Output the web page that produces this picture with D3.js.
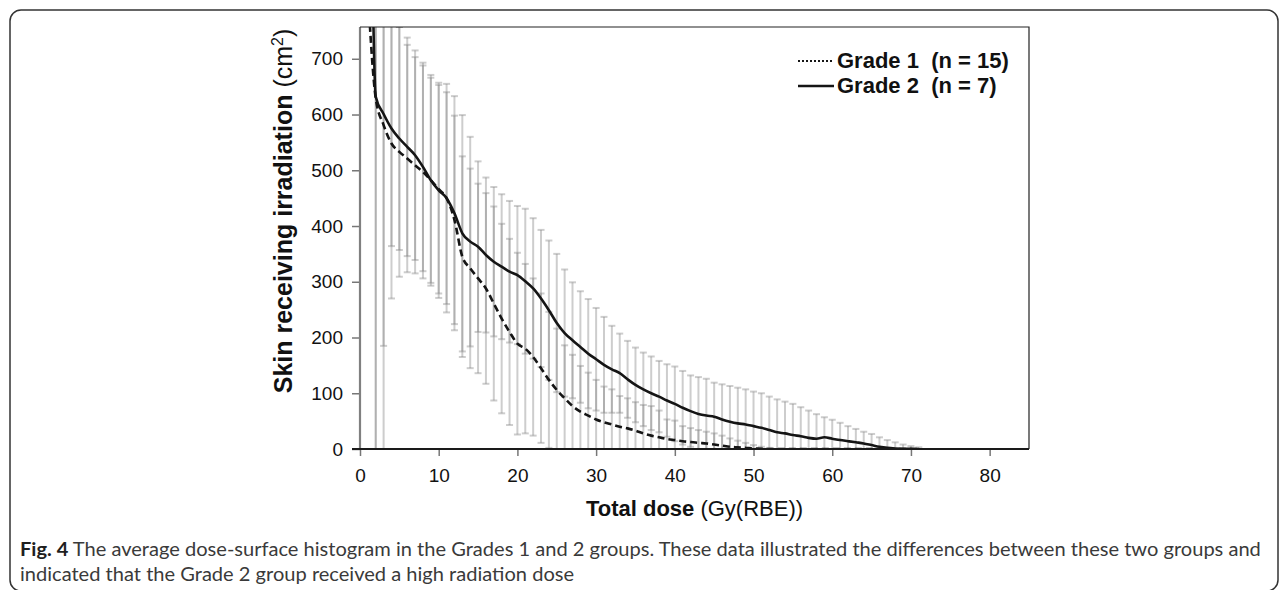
<!DOCTYPE html>
<meta charset="utf-8">
<title>Average dose-surface histogram</title>
<style>
body { margin: 0; background: #fff; }
svg { display: block; }
.axis text { font: 19px "Liberation Sans", Arial, sans-serif; fill: #111; }
.axis line { stroke: #777; stroke-width: 1.5px; }
.axis path { display: none; }
.ebar { stroke: #888; stroke-opacity: 0.42; stroke-width: 2px; }
.title { font-family: "Liberation Sans", Arial, sans-serif; fill: #111; }
.caption { font-family: Lato, sans-serif; font-size: 19px; fill: #3a3a3a; }
</style>
<svg width="1284" height="590"></svg>
<script src="https://cdnjs.cloudflare.com/ajax/libs/d3/7.8.5/d3.min.js"></script>
<script>

// dose bins (Gy(RBE))
var dose = [1,2,3,4,5,6,7,8,9,10,11,12,13,14,15,16,17,18,19,20,
  21,22,23,24,25,26,27,28,29,30,31,32,33,34,35,36,37,38,39,40,
  41,42,43,44,45,46,47,48,49,50,51,52,53,54,55,56,57,58,59,60,
  61,62,63,64,65,66,67,68,69,70,71];

// Grade 1 (n = 15), mean and SD of skin area (cm2)
var grade1Mean = [820,629,581,548,533,521,509,497,482,466,450,411,345,324,306,288,261,234,210,189,
  180,165,145,124,106,91,77,67,60,53,48,44,40,37,33,28,24,21,18,16,
  14,12.5,11,10,8,6,4,3,2,1,0.5,0,0,0,0,0,0,0,0,0,
  0,0,0,0,0,0,0,0,0,0,0];
var grade1SD = [null,700,600,278,224,204,194,191,189,187,190,187,180,179,170,171,174,170,167,163,
  152,141,134,122,110,95,92,82,77,71,64,63,55,54,51,51,53,48,35,35,
  27,25,23,21,20,18,15,12,9,6,3.5,2,null,null,null,null,null,null,null,null,
  null,null,null,null,null,null,null,null,null,null,null];

// Grade 2 (n = 7)
var grade2Mean = [1500,632,601,575,557,542,527,506,482,464,450,423,387,372,363,348,336,327,318,312,
  301,288,270,249,226,208,195,183,171,161,151,143,136,125,115,107,100,94,87,81,
  74,68,63,60,58,53,49,46,44,41,38,34,30,28,25,23,20,18.5,21,18.5,
  16,14,12,10,7,4,2,1,0.5,0.2,0];
var grade2SD = [null,680,416,211,200,196,188,187,184,193,205,210,212,188,153,139,134,130,127,124,
  130,126,123,125,124,114,104,100,98,92,86,78,71,69,67,66,66,64,65,67,
  66,64,66,66,61,63,64,64,63,62,62,60,59,57,56,52,49,44,36,34,
  31,27,24,21,20,17,14,11,7.5,5,3];

var xTicks = [0,10,20,30,40,50,60,70,80];
var yTicks = [0,100,200,300,400,500,600,700];

var svg = d3.select("svg");

var x = d3.scaleLinear().domain([0, 85]).range([360, 1029]);
var y = d3.scaleLinear().domain([0, 757]).range([449, 27]);

// outer figure frame
svg.append("rect")
    .attr("x", 10).attr("y", 10)
    .attr("width", 1268).attr("height", 581)
    .attr("rx", 11)
    .attr("fill", "none")
    .attr("stroke", "#333")
    .attr("stroke-width", 1.5);

svg.append("clipPath").attr("id", "plot")
  .append("rect")
    .attr("x", x(0)).attr("y", y(757))
    .attr("width", x(85) - x(0)).attr("height", y(0) - y(757));

var series = [
  {mean: grade1Mean, sd: grade1SD, dash: "7,4"},
  {mean: grade2Mean, sd: grade2SD, dash: null}
];

var plot = svg.append("g").attr("clip-path", "url(#plot)");

// error bars (mean +/- SD)
series.forEach(function(s) {
  var pts = dose.map(function(d, i) { return {x: d, m: s.mean[i], sd: s.sd[i]}; })
      .filter(function(p) { return p.sd != null; });
  var g = plot.append("g");
  g.selectAll(".ebar.v").data(pts).enter().append("line")
      .attr("class", "ebar v")
      .attr("x1", function(p) { return x(p.x); })
      .attr("x2", function(p) { return x(p.x); })
      .attr("y1", function(p) { return y(p.m - p.sd); })
      .attr("y2", function(p) { return y(p.m + p.sd); });
  [-1, 1].forEach(function(sign) {
    g.selectAll(".cap" + sign).data(pts).enter().append("line")
        .attr("class", "ebar")
        .attr("x1", function(p) { return x(p.x) - 3.5; })
        .attr("x2", function(p) { return x(p.x) + 3.5; })
        .attr("y1", function(p) { return y(p.m + sign * p.sd); })
        .attr("y2", function(p) { return y(p.m + sign * p.sd); });
  });
});

// mean curves
var line = d3.line()
    .x(function(d) { return x(d[0]); })
    .y(function(d) { return y(d[1]); })
    .curve(d3.curveMonotoneX);

series.forEach(function(s) {
  plot.append("path")
      .datum(dose.map(function(d, i) { return [d, s.mean[i]]; }))
      .attr("d", line)
      .attr("fill", "none")
      .attr("stroke", "#151515")
      .attr("stroke-width", 2.6)
      .attr("stroke-dasharray", s.dash);
});

// axes
svg.append("g")
    .attr("class", "axis")
    .attr("transform", "translate(" + x(0) + ",0)")
    .call(d3.axisLeft(y).tickValues(yTicks).tickSize(8).tickPadding(9));

svg.append("g")
    .attr("class", "axis")
    .attr("transform", "translate(0," + y(0) + ")")
    .call(d3.axisBottom(x).tickValues(xTicks).tickSize(7).tickPadding(13));

svg.append("line")
    .attr("x1", x(0)).attr("x2", x(0))
    .attr("y1", y(757)).attr("y2", y(0))
    .attr("stroke", "#808080").attr("stroke-width", 2.2);
svg.append("line")
    .attr("x1", x(0) - 8).attr("x2", x(85))
    .attr("y1", y(0)).attr("y2", y(0))
    .attr("stroke", "#1a1a1a").attr("stroke-width", 2);
svg.append("path")
    .attr("d", "M" + x(0) + "," + y(757) + "H" + x(85) + "V" + y(0))
    .attr("fill", "none")
    .attr("stroke", "#222").attr("stroke-width", 1.2);

// legend
var legend = [
  {label: "Grade 1", n: 15, dash: "2,2"},
  {label: "Grade 2", n: 7, dash: null}
];
var lg = svg.selectAll(".lg").data(legend).enter().append("g")
    .attr("transform", function(d, i) { return "translate(798," + (60 + i * 25) + ")"; });
lg.append("line")
    .attr("x1", 0).attr("x2", 36)
    .attr("y1", 1).attr("y2", 1)
    .attr("stroke", "#151515")
    .attr("stroke-width", function(d) { return d.dash ? 2 : 2.4; })
    .attr("stroke-dasharray", function(d) { return d.dash; });
lg.append("text")
    .attr("class", "title")
    .attr("x", 39).attr("y", 8)
    .style("font-size", "22px").style("font-weight", "bold")
    .attr("xml:space", "preserve")
    .text(function(d) { return d.label + "  (n = " + d.n + ")"; });

// axis titles
var xt = svg.append("text")
    .attr("class", "title")
    .attr("x", (x(0) + x(85)) / 2).attr("y", 516)
    .attr("text-anchor", "middle")
    .style("font-size", "22px");
xt.append("tspan").style("font-weight", "bold").text("Total dose");
xt.append("tspan").text(" (Gy(RBE))");

var yt = svg.append("text")
    .attr("class", "title")
    .attr("transform", "translate(292,211) rotate(-90)")
    .attr("text-anchor", "middle")
    .style("font-size", "25px");
yt.append("tspan").style("font-weight", "bold").text("Skin receiving irradiation");
yt.append("tspan").text(" (cm");
yt.append("tspan").attr("dy", -9).style("font-size", "16px").text("2");
yt.append("tspan").attr("dy", 9).text(")");

// caption, squeezed to the printed line width
var cap = svg.append("g");
var c1 = cap.append("text").attr("class", "caption").attr("x", 20).attr("y", 556);
c1.append("tspan").style("font-weight", "bold").style("fill", "#1e1e1e").text("Fig. 4");
c1.append("tspan").text(" The average dose-surface histogram in the Grades 1 and 2 groups. These data illustrated the differences between these two groups and");
cap.append("text").attr("class", "caption").attr("x", 20).attr("y", 581)
    .text("indicated that the Grade 2 group received a high radiation dose");
var k = 1242 / c1.node().getComputedTextLength();
cap.attr("transform", "translate(20,0) scale(" + k + ",1) translate(-20,0)");

</script>
